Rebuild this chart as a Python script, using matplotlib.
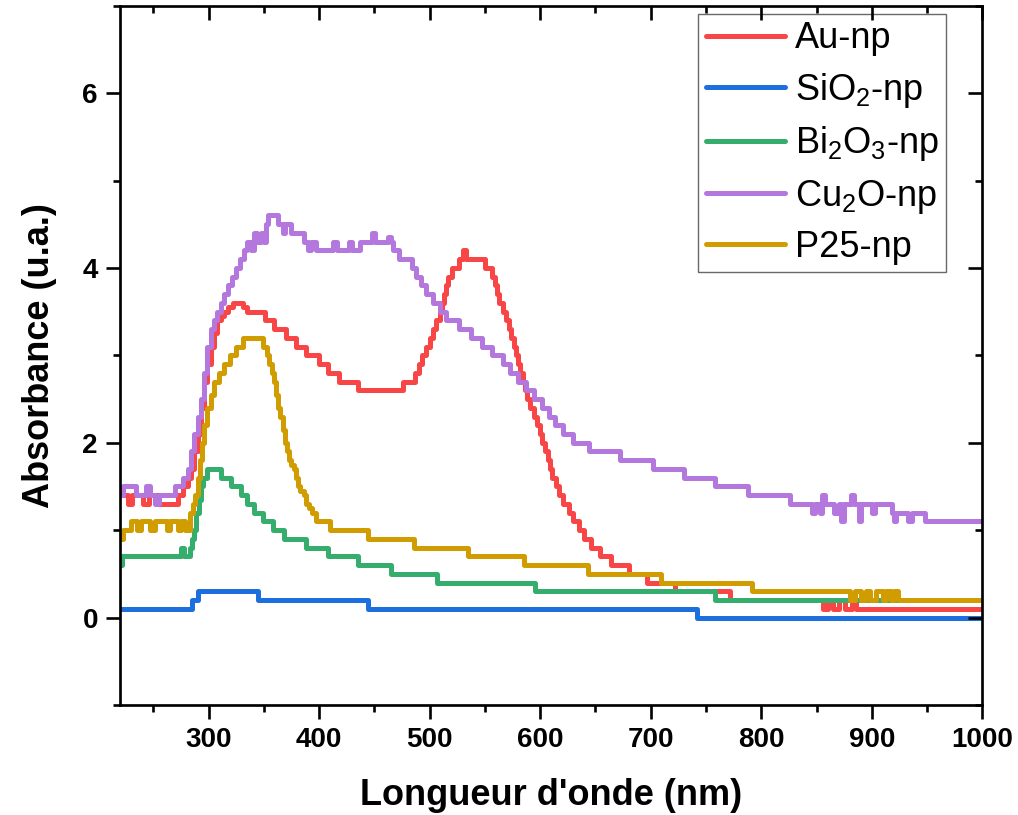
import matplotlib
matplotlib.use("Agg")
import matplotlib.pyplot as plt
from matplotlib.ticker import MultipleLocator

plt.rcParams['font.family'] = ['Liberation Sans', 'DejaVu Sans']

# breakpoints (nm) and absorbance levels, drawn as steps
au_x = [220, 227, 231, 241, 246, 255, 272, 277, 281, 284, 287, 290, 293, 296, 299, 302, 305,
        308, 311, 314, 318, 322, 331, 335, 351, 359, 370, 379, 388, 400, 408, 418, 435, 476,
        487, 490, 493, 497, 500, 503, 506, 509, 511, 513, 515, 517, 520, 527, 530, 533, 550,
        556, 559, 561, 563, 566, 569, 572, 574, 576, 578, 580, 582, 584, 586, 588, 591, 594,
        597, 600, 602, 604, 607, 609, 611, 614, 617, 621, 626, 630, 635, 640, 646, 654, 664,
        680, 697, 722, 772, 856, 860, 865, 870, 876, 882, 886, 1000]
au_y = [1.4, 1.3, 1.4, 1.3, 1.4, 1.3, 1.4, 1.5, 1.6, 1.7, 1.9, 2.1, 2.4, 2.7, 2.9, 3.1, 3.25,
        3.4, 3.45, 3.5, 3.55, 3.6, 3.55, 3.5, 3.4, 3.3, 3.2, 3.1, 3.0, 2.9, 2.8, 2.7, 2.6, 2.7,
        2.8, 2.9, 3.0, 3.1, 3.2, 3.3, 3.4, 3.5, 3.6, 3.7, 3.8, 3.9, 4.0, 4.1, 4.2, 4.1, 4.0,
        3.9, 3.8, 3.7, 3.6, 3.5, 3.4, 3.3, 3.2, 3.1, 3.0, 2.9, 2.8, 2.7, 2.6, 2.5, 2.4, 2.3,
        2.2, 2.1, 2.0, 1.9, 1.8, 1.7, 1.6, 1.5, 1.4, 1.3, 1.2, 1.1, 1.0, 0.9, 0.8, 0.7, 0.6,
        0.5, 0.4, 0.3, 0.2, 0.1, 0.2, 0.1, 0.2, 0.1, 0.2, 0.1, 0.1]

sio2_x = [220, 285, 290, 345, 444, 742, 1000]
sio2_y = [0.1, 0.2, 0.3, 0.2, 0.1, 0.0, 0.0]

bi2o3_x = [220, 222, 275, 278, 283, 285, 287, 289, 291, 293, 295, 299, 311, 320, 329, 335, 341,
           349, 358, 368, 388, 408, 435, 465, 507, 595, 758, 1000]
bi2o3_y = [0.6, 0.7, 0.8, 0.7, 0.8, 0.9, 1.0, 1.2, 1.35, 1.5, 1.6, 1.7, 1.6, 1.5, 1.4, 1.3, 1.2,
           1.1, 1.0, 0.9, 0.8, 0.7, 0.6, 0.5, 0.4, 0.3, 0.2, 0.2]

cu2o_x = [220, 223, 234, 243, 247, 252, 255, 270, 277, 281, 284, 287, 290, 293, 296, 299, 302,
          305, 308, 311, 314, 318, 321, 325, 328, 332, 335, 338, 341, 344, 347, 350, 352, 354,
          363, 367, 369, 375, 386, 390, 393, 397, 413, 416, 427, 430, 437, 448, 451, 462, 465,
          467, 472, 484, 488, 492, 497, 503, 509, 515, 527, 537, 547, 556, 566, 573, 580, 587,
          594, 602, 608, 613, 621, 630, 644, 672, 702, 730, 758, 788, 826, 846, 849, 853, 855,
          858, 866, 870, 872, 875, 881, 884, 888, 890, 900, 903, 918, 920, 922, 933, 936, 948,
          1000]
cu2o_y = [1.4, 1.5, 1.4, 1.5, 1.4, 1.3, 1.4, 1.5, 1.6, 1.7, 1.9, 2.1, 2.3, 2.5, 2.8, 3.1, 3.3,
          3.4, 3.5, 3.6, 3.7, 3.8, 3.9, 4.0, 4.1, 4.2, 4.3, 4.2, 4.4, 4.3, 4.4, 4.3, 4.5, 4.6,
          4.5, 4.4, 4.5, 4.4, 4.3, 4.2, 4.3, 4.2, 4.3, 4.2, 4.3, 4.2, 4.3, 4.4, 4.3, 4.35, 4.3,
          4.2, 4.1, 4.0, 3.9, 3.8, 3.7, 3.6, 3.5, 3.4, 3.3, 3.2, 3.1, 3.0, 2.9, 2.8, 2.7, 2.6,
          2.5, 2.4, 2.3, 2.2, 2.1, 2.0, 1.9, 1.8, 1.7, 1.6, 1.5, 1.4, 1.3, 1.2, 1.3, 1.2, 1.4,
          1.3, 1.2, 1.3, 1.1, 1.3, 1.4, 1.3, 1.1, 1.3, 1.2, 1.3, 1.2, 1.1, 1.2, 1.1, 1.2, 1.1,
          1.1]

p25_x = [220, 223, 230, 235, 239, 247, 252, 262, 265, 272, 275, 279, 283, 286, 288, 290, 292,
         294, 296, 299, 302, 305, 309, 314, 319, 325, 331, 349, 353, 355, 357, 359, 361, 363,
         365, 367, 369, 371, 373, 375, 377, 379, 381, 383, 386, 388, 391, 394, 397, 410, 444,
         486, 535, 585, 643, 709, 792, 880, 885, 890, 895, 898, 904, 910, 913, 917, 920, 924,
         1000]
p25_y = [0.9, 1.0, 1.1, 1.0, 1.1, 1.0, 1.1, 1.0, 1.1, 1.0, 1.1, 1.0, 1.2, 1.3, 1.4, 1.6, 1.8,
         2.0, 2.2, 2.4, 2.55, 2.7, 2.8, 2.9, 3.0, 3.1, 3.2, 3.1, 3.0, 2.9, 2.8, 2.7, 2.55, 2.4,
         2.3, 2.15, 2.0, 1.9, 1.8, 1.75, 1.7, 1.6, 1.5, 1.45, 1.4, 1.3, 1.25, 1.2, 1.1, 1.0, 0.9,
         0.8, 0.7, 0.6, 0.5, 0.4, 0.3, 0.2, 0.3, 0.2, 0.3, 0.2, 0.3, 0.2, 0.3, 0.2, 0.3, 0.2,
         0.2]

series = [
    (au_x, au_y, '#F84545', 'Au-np'),
    (sio2_x, sio2_y, '#1D6FDE', r'SiO$_\mathregular{2}$-np'),
    (bi2o3_x, bi2o3_y, '#35AE6D', r'Bi$_\mathregular{2}$O$_\mathregular{3}$-np'),
    (cu2o_x, cu2o_y, '#B377DE', r'Cu$_\mathregular{2}$O-np'),
    (p25_x, p25_y, '#D19C00', 'P25-np'),
]

fig = plt.figure(figsize=(10.18, 8.15), dpi=100)
ax = fig.add_axes([0.118, 0.135, 0.847, 0.858])

for x, y, c, lab in series:
    ax.plot(x, y, drawstyle='steps-post', color=c, lw=3.6, label=lab,
            solid_joinstyle='round', solid_capstyle='round')

ax.set_xlim(220, 1000)
ax.set_ylim(-1, 7)
ax.set_xticks([300, 400, 500, 600, 700, 800, 900, 1000])
ax.xaxis.set_minor_locator(MultipleLocator(50))
ax.yaxis.set_major_locator(MultipleLocator(2))
ax.yaxis.set_minor_locator(MultipleLocator(1))

for s in ax.spines.values():
    s.set_linewidth(1.9)
ax.tick_params(which='major', direction='out', length=10, width=1.9, labelsize=20, pad=6)
ax.tick_params(which='minor', direction='out', length=5, width=1.9)
for lab in ax.get_xticklabels() + ax.get_yticklabels():
    lab.set_fontweight('bold')

# mirrored ticks pointing inward on top and right
axt = ax.twiny()
axt.set_xlim(ax.get_xlim())
axt.set_xticks([300, 400, 500, 600, 700, 800, 900, 1000])
axt.xaxis.set_minor_locator(MultipleLocator(50))
axt.tick_params(axis='x', which='both', direction='in', width=1.9, labeltop=False)
axt.tick_params(axis='x', which='major', length=10)
axt.tick_params(axis='x', which='minor', length=5)
axr = ax.twinx()
axr.set_ylim(ax.get_ylim())
axr.yaxis.set_major_locator(MultipleLocator(2))
axr.yaxis.set_minor_locator(MultipleLocator(1))
axr.tick_params(axis='y', which='both', direction='in', width=1.9, labelright=False)
axr.tick_params(axis='y', which='major', length=10)
axr.tick_params(axis='y', which='minor', length=5)

ax.set_xlabel("Longueur d'onde (nm)", fontsize=26, fontweight='bold', labelpad=18)
ax.set_ylabel('Absorbance (u.a.)', fontsize=26, fontweight='bold', labelpad=18)

leg = ax.legend(loc='upper right', bbox_to_anchor=(0.958, 0.988), fontsize=26,
                frameon=True, fancybox=False, edgecolor='#444444', handlelength=2.2,
                handletextpad=0.28, labelspacing=0.4, borderpad=0.2, borderaxespad=0)
leg.get_frame().set_linewidth(1.0)

fig.savefig('out.png', dpi=100)
